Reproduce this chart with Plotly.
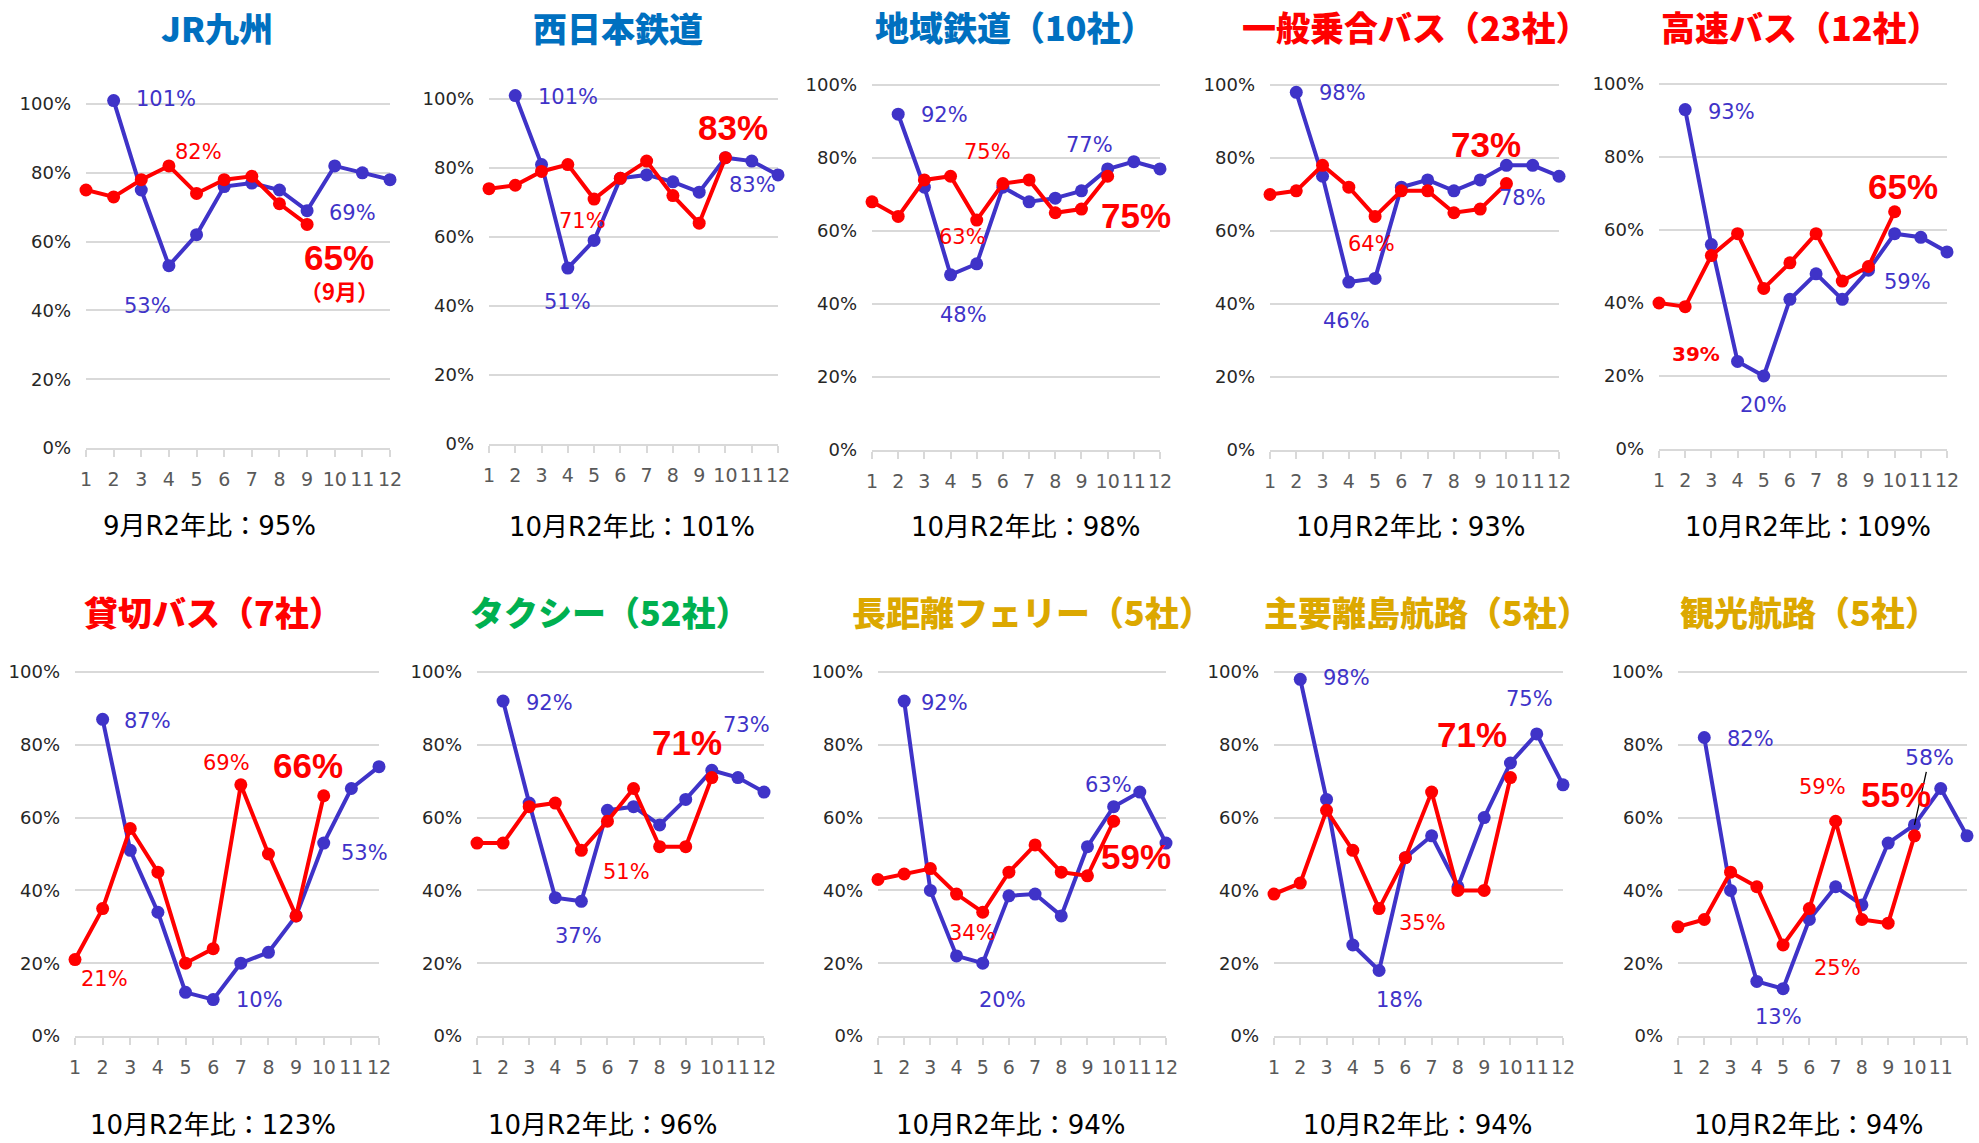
import plotly.graph_objects as go

# ---------------- data ----------------
MONTHS = list(range(1, 13))
TICK_LABELS = [str(m) for m in MONTHS]
BLUE_MONTHS = list(range(2, 13))   # blue series: Feb..Dec
Y_TICKS = [0, 20, 40, 60, 80, 100]
Y_TICK_LABELS = ["0%", "20%", "40%", "60%", "80%", "100%"]

TITLES = ["JR九州", "西日本鉄道", "地域鉄道（10社）", "一般乗合バス（23社）", "高速バス（12社）",
          "貸切バス（7社）", "タクシー（52社）", "長距離フェリー（5社）", "主要離島航路（5社）", "観光航路（5社）"]
SUBTITLES = ["9月R2年比：95%", "10月R2年比：101%", "10月R2年比：98%", "10月R2年比：93%", "10月R2年比：109%",
             "10月R2年比：123%", "10月R2年比：96%", "10月R2年比：94%", "10月R2年比：94%", "10月R2年比：94%"]

jr_blue = [101, 75, 53, 62, 76, 77, 75, 69, 82, 80, 78]
jr_red = [75, 73, 78, 82, 74, 78, 79, 71, 65]
nnr_blue = [101, 81, 51, 59, 77, 78, 76, 73, 83, 82, 78]
nnr_red = [74, 75, 79, 81, 71, 77, 82, 72, 64, 83]
chiiki_blue = [92, 72, 48, 51, 72, 68, 69, 71, 77, 79, 77]
chiiki_red = [68, 64, 74, 75, 63, 73, 74, 65, 66, 75]
ippan_blue = [98, 75, 46, 47, 72, 74, 71, 74, 78, 78, 75]
ippan_red = [70, 71, 78, 72, 64, 71, 71, 65, 66, 73]
kosoku_blue = [93, 56, 24, 20, 41, 48, 41, 49, 59, 58, 54]
kosoku_red = [40, 39, 53, 59, 44, 51, 59, 46, 50, 65]
kashikiri_blue = [87, 51, 34, 12, 10, 20, 23, 33, 53, 68, 74]
kashikiri_red = [21, 35, 57, 45, 20, 24, 69, 50, 33, 66]
taxi_blue = [92, 64, 38, 37, 62, 63, 58, 65, 73, 71, 67]
taxi_red = [53, 53, 63, 64, 51, 59, 68, 52, 52, 71]
ferry_blue = [92, 40, 22, 20, 38.5, 39, 33, 52, 63, 67, 53]
ferry_red = [43, 44.5, 46, 39, 34, 45, 52.5, 45, 44, 59]
ritou_blue = [98, 65, 25, 18, 49, 55, 41, 60, 75, 83, 69]
ritou_red = [39, 42, 62, 51, 35, 49, 67, 40, 40, 71]
kanko_blue = [82, 40, 15, 13, 32, 41, 36, 53, 58, 68, 55]
kanko_red = [30, 32, 45, 41, 25, 35, 59, 32, 31, 55]

BLUES = [jr_blue, nnr_blue, chiiki_blue, ippan_blue, kosoku_blue,
         kashikiri_blue, taxi_blue, ferry_blue, ritou_blue, kanko_blue]
REDS = [jr_red, nnr_red, chiiki_red, ippan_red, kosoku_red,
        kashikiri_red, taxi_red, ferry_red, ritou_red, kanko_red]

# ---------------- styles / layout ----------------
W, H = 1979, 1143

def fx(p):
    return p / W

def fy(p):
    return 1 - p / H

BLUE = "#3F33C8"
RED = "#FF0000"
T_BLUE, T_RED, T_GREEN, T_GOLD = "#0070C0", "#FF0000", "#00B050", "#DCA800"
TITLE_COLORS = [T_BLUE, T_BLUE, T_BLUE, T_RED, T_RED, T_RED, T_GREEN, T_GOLD, T_GOLD, T_GOLD]
GRID = "#D9D9D9"
LABEL_FONT = "DejaVu Sans, Noto Sans CJK JP, sans-serif"
BIG_FONT = "Liberation Sans, Arial, sans-serif"
CJK_FONT = "Noto Sans CJK JP, sans-serif"
SUB_FONT = "DejaVu Sans, Noto Sans CJK JP, sans-serif"
Y_MAX = 105   # headroom so that 101% points stay inside the axis range

# plot boxes in page pixels: (x of month 1, x of month 12, y of 100%, y of 0%)
BOXES = [(86, 390, 104, 448), (489, 778, 99, 444), (872, 1160, 85, 450), (1270, 1559, 85, 450),
         (1659, 1947, 84, 449),
         (75, 379, 672, 1036), (477, 764, 672, 1036), (878, 1166, 672, 1036), (1274, 1563, 672, 1036),
         (1678, 1967, 672, 1036)]
TITLE_POS = [(217, 28), (618, 28), (1014, 27), (1415, 27), (1800, 27),
             (213, 611), (609, 611), (1032, 611), (1427, 611), (1809, 611)]
SUB_POS = [(209, 526), (632, 527), (1025, 527), (1410, 527), (1808, 527),
           (213, 1125), (602, 1125), (1010, 1125), (1417, 1125), (1808, 1125)]

# label placements: (series, month, style, dx, dy)  dy: screen px downward
LABELS = [
    [("b", 2, "n", 52, -2), ("b", 4, "n", -21, 40), ("b", 9, "n", 45, 2), ("r", 4, "n", 30, -14),
     ("r", 9, "big", 32, 33), ("r", 9, "note", 32, 66)],
    [("b", 2, "n", 53, 1), ("b", 4, "n", 0, 34), ("b", 10, "n", 27, 27), ("r", 5, "n", -12, 22),
     ("r", 10, "big", 8, -30)],
    [("b", 2, "n", 46, 1), ("b", 4, "n", 13, 40), ("b", 10, "n", -18, -24), ("r", 4, "n", 37, -24),
     ("r", 5, "n", -14, 17), ("r", 10, "big", 28, 39)],
    [("b", 2, "n", 46, 1), ("b", 4, "n", -2, 39), ("b", 10, "n", 16, 33), ("r", 5, "n", -4, 28),
     ("r", 10, "big", -20, -39)],
    [("b", 2, "n", 46, 2), ("b", 5, "n", 0, 29), ("b", 10, "n", 13, 48), ("r", 2, "bold", 11, 47),
     ("r", 10, "big", 8, -25)],
    [("b", 2, "n", 45, 2), ("b", 6, "n", 46, 0), ("b", 10, "n", 41, 10), ("r", 1, "n", 29, 19),
     ("r", 7, "n", -14, -22), ("r", 10, "big", -16, -30)],
    [("b", 2, "n", 46, 2), ("b", 5, "n", -3, 35), ("b", 10, "n", 35, -45), ("r", 5, "n", 45, 22),
     ("r", 10, "big", -25, -35)],
    [("b", 2, "n", 40, 2), ("b", 5, "n", 20, 37), ("b", 10, "n", -5, -22), ("r", 5, "n", -10, 21),
     ("r", 10, "big", 22, 35)],
    [("b", 2, "n", 46, -1), ("b", 5, "n", 20, 30), ("b", 10, "n", 19, -64), ("r", 5, "n", 43, 14),
     ("r", 10, "big", -38, -43)],
    [("b", 2, "n", 46, 1), ("b", 5, "n", -5, 28), ("b", 10, "leader", 15, -67), ("r", 7, "n", -13, -34),
     ("r", 5, "n", 54, 23), ("r", 10, "big", -18, -41)],
]
NOTE_TEXT = "（9月）"

fig = go.Figure()
annotations = []
layout_axes = {}

for i in range(10):
    sfx = "" if i == 0 else str(i + 1)
    x1, x12, ytop, ybot = BOXES[i]
    scale = (ybot - ytop) / 100.0
    ytop_ext = ybot - Y_MAX * scale
    blue, red = BLUES[i], REDS[i]
    red_months = MONTHS[:len(red)]

    fig.add_trace(go.Scatter(x=BLUE_MONTHS, y=blue, mode="lines+markers",
                             line=dict(color=BLUE, width=4), marker=dict(size=13, color=BLUE),
                             xaxis="x" + sfx, yaxis="y" + sfx, cliponaxis=False,
                             showlegend=False, hoverinfo="skip"))
    fig.add_trace(go.Scatter(x=red_months, y=red, mode="lines+markers",
                             line=dict(color=RED, width=4), marker=dict(size=13, color=RED),
                             xaxis="x" + sfx, yaxis="y" + sfx, cliponaxis=False,
                             showlegend=False, hoverinfo="skip"))

    layout_axes["xaxis" + sfx] = dict(
        domain=[fx(x1), fx(x12)], anchor="y" + sfx, range=[1, 12], automargin=False,
        tickmode="array", tickvals=MONTHS, ticktext=TICK_LABELS, tickangle=0,
        showgrid=False, zeroline=False, showline=True, linecolor=GRID, linewidth=2,
        ticks="outside", ticklen=7, tickwidth=2, tickcolor=GRID,
        tickfont=dict(size=19, color="#595959", family=LABEL_FONT), ticklabelstandoff=6,
        fixedrange=True)
    layout_axes["yaxis" + sfx] = dict(
        domain=[fy(ybot), fy(ytop_ext)], anchor="x" + sfx, range=[0, Y_MAX],
        automargin=False,
        tickmode="array", tickvals=Y_TICKS, ticktext=Y_TICK_LABELS,
        showgrid=True, gridcolor=GRID, gridwidth=2, zeroline=False, showline=False,
        tickfont=dict(size=18, color="#262626", family=LABEL_FONT), ticklabelstandoff=14,
        fixedrange=True)

    # title & subtitle
    tx, ty = TITLE_POS[i]
    annotations.append(dict(text=TITLES[i], x=fx(tx), y=fy(ty),
                            xref="paper", yref="paper", showarrow=False,
                            xanchor="center", yanchor="middle",
                            font=dict(size=34, color=TITLE_COLORS[i], family=CJK_FONT, weight=900)))
    sx, sy = SUB_POS[i]
    annotations.append(dict(text=SUBTITLES[i], x=fx(sx), y=fy(sy),
                            xref="paper", yref="paper", showarrow=False,
                            xanchor="center", yanchor="middle",
                            font=dict(size=26, color="#000000", family=SUB_FONT)))

    # data labels
    for ser, m, style, dx, dy in LABELS[i]:
        if ser == "b":
            val = blue[BLUE_MONTHS.index(m)]
            col = BLUE
        else:
            val = red[red_months.index(m)]
            col = RED
        txt = f"{round(val)}%"
        base = dict(x=m, y=val, xref="x" + sfx, yref="y" + sfx,
                    xanchor="center", yanchor="middle")
        if style == "n":
            annotations.append(dict(base, text=txt, showarrow=False, xshift=dx, yshift=-dy,
                                    font=dict(size=21, color=col, family=LABEL_FONT)))
        elif style == "bold":
            annotations.append(dict(base, text="<b>" + txt + "</b>", showarrow=False,
                                    xshift=dx, yshift=-dy,
                                    font=dict(size=20, color=col, family=LABEL_FONT)))
        elif style == "big":
            annotations.append(dict(base, text="<b>" + txt + "</b>", showarrow=False,
                                    xshift=dx, yshift=-dy,
                                    font=dict(size=35, color=col, family=BIG_FONT)))
        elif style == "note":
            annotations.append(dict(base, text="<b>" + NOTE_TEXT + "</b>", showarrow=False,
                                    xshift=dx, yshift=-dy,
                                    font=dict(size=22, color=col, family=CJK_FONT)))
        elif style == "leader":
            annotations.append(dict(base, text=txt, showarrow=True, ax=dx, ay=dy,
                                    arrowhead=0, arrowwidth=1.3, arrowcolor="#000000",
                                    standoff=0,
                                    font=dict(size=22, color=col, family=LABEL_FONT)))

fig.update_layout(
    width=W, height=H, autosize=False,
    margin=dict(l=0, r=0, t=0, b=0),
    paper_bgcolor="white", plot_bgcolor="white",
    font=dict(family=LABEL_FONT),
    annotations=annotations,
    showlegend=False,
    **layout_axes,
)

# remove the browser's default 8px body margin so the figure fills the window exactly
fig.write_html(
    "out.html",
    config={"displayModeBar": False, "staticPlot": True},
    post_script="document.body.style.margin='0';document.body.style.overflow='hidden';"
                "document.documentElement.style.overflow='hidden';",
)
